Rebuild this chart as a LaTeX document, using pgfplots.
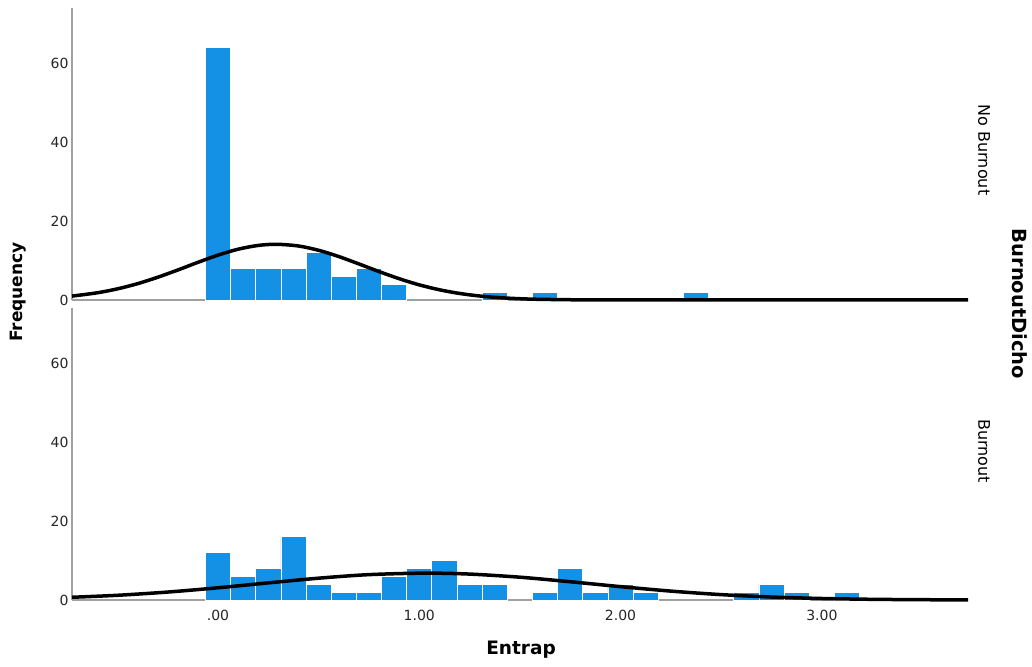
\documentclass[border=0pt]{standalone}
\usepackage{fontspec}
\setmainfont{DejaVu Sans}
\usepackage{pgfplots}
\usepackage{pgfplotstable}
\pgfplotsset{compat=1.18}

\definecolor{barblue}{RGB}{20,144,229}
\definecolor{axisgray}{RGB}{160,160,160}

% Entrap histograms (bin centre, count), bin width 0.125
\pgfplotstableread{
x count
0.000 64
0.125 8
0.250 8
0.375 8
0.500 12
0.625 6
0.750 8
0.875 4
1.375 2
1.625 2
2.375 2
}\noburnout

\pgfplotstableread{
x count
0.000 12
0.125 6
0.250 8
0.375 16
0.500 4
0.625 2
0.750 2
0.875 6
1.000 8
1.125 10
1.250 4
1.375 4
1.625 2
1.750 8
1.875 2
2.000 4
2.125 2
2.625 2
2.750 4
2.875 2
3.125 2
}\burnout

% normal curves
\pgfplotstableread{
x y
-0.725 0.99
-0.6 1.82
-0.5 2.81
-0.4 4.12
-0.3 5.74
-0.2 7.58
-0.1 9.52
0.0 11.35
0.1 12.85
0.2 13.81
0.29 14.10
0.4 13.67
0.5 12.58
0.6 11.00
0.7 9.13
0.8 7.20
0.9 5.39
1.0 3.83
1.1 2.59
1.2 1.66
1.3 1.01
1.4 0.585
1.5 0.321
1.6 0.168
1.8 0.039
2.0 0.007
2.2 0.001
2.5 0.0
3.0 0.0
3.726 0.0
}\noburnoutfit

\pgfplotstableread{
x y
-0.725 0.69
-0.5 1.19
-0.25 2.01
0.0 3.09
0.25 4.33
0.5 5.52
0.75 6.42
1.03 6.80
1.25 6.56
1.5 5.77
1.75 4.62
2.0 3.38
2.25 2.25
2.5 1.36
2.75 0.75
3.0 0.38
3.25 0.174
3.5 0.073
3.726 0.031
}\burnoutfit

\pgfplotsset{
  facet/.style={
    scale only axis, width=896pt, height=292pt,
    xmin=-0.725, xmax=3.726, ymin=0, ymax=73.9,
    axis x line=bottom, axis y line=left,
    axis line style={axisgray, line width=1.5pt, -},
    ytick={0,20,40,60}, yticklabels={0,20,40,60},
    xtick={0,1,2,3},
    major tick length=0pt,
    tick label style={font=\fontsize{14}{16}\selectfont, text=black!85},
    xticklabel style={yshift=-7pt},
    clip=false,
  },
  bars/.style={ybar, bar width=0.125, bar shift=0pt, fill=barblue, draw=white, line width=0.7pt},
  fit/.style={black, line width=3.5pt, smooth, no marks},
}

\begin{document}
\begin{tikzpicture}
\path[use as bounding box] (0,0) rectangle (1032pt,666pt);

\begin{axis}[facet, at={(72pt,366pt)}, anchor=south west, xticklabels={}]
  \addplot[bars] table[x=x, y=count] {\noburnout};
  \addplot[fit] table[x=x, y=y] {\noburnoutfit};
\end{axis}

\begin{axis}[facet, at={(72pt,66pt)}, anchor=south west,
  xticklabels={.00,1.00,2.00,3.00}]
  \addplot[bars] table[x=x, y=count] {\burnout};
  \addplot[fit] table[x=x, y=y] {\burnoutfit};
\end{axis}

\node[rotate=90, font=\bfseries\fontsize{17}{20}\selectfont] at (18pt,374pt) {Frequency};
\node[font=\bfseries\fontsize{18.5}{22}\selectfont] at (521pt,16pt) {Entrap};
\node[rotate=-90, font=\bfseries\fontsize{19.5}{23}\selectfont] at (1020pt,362pt) {BurnoutDicho};
\node[rotate=-90, font=\fontsize{16}{18}\selectfont] at (984pt,516pt) {No Burnout};
\node[rotate=-90, font=\fontsize{16}{18}\selectfont] at (984pt,215pt) {Burnout};
\end{tikzpicture}
\end{document}
